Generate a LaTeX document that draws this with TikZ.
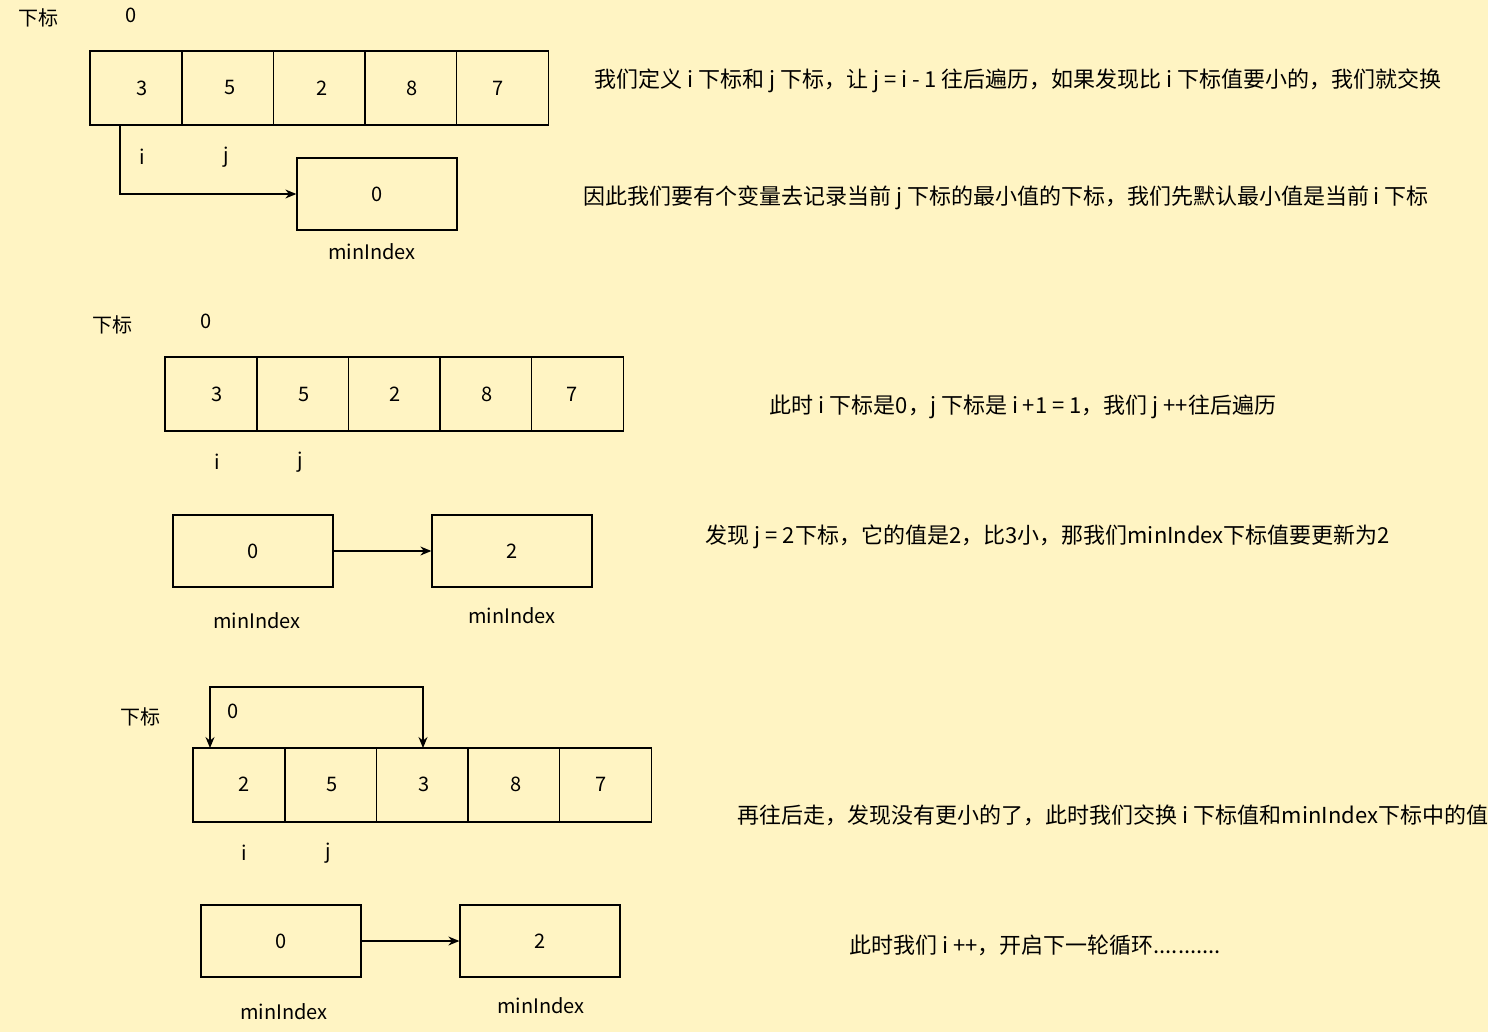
\documentclass[tikz,border=0pt]{standalone}
\usepackage{fontspec}
\setmainfont{Noto Sans CJK SC}
\usetikzlibrary{arrows.meta}
\definecolor{bg}{HTML}{FFF4C3}
\begin{document}
\begin{tikzpicture}[x=1pt,y=-1pt,
  every node/.style={font=\fontsize{20}{22}\selectfont,text=black},
  cell/.style={draw=black,line width=1.3pt,minimum width=92pt,minimum height=74pt,inner sep=0pt},
  mbox/.style={draw=black,line width=1.3pt,minimum width=160pt,minimum height=72pt,inner sep=0pt},
  conn/.style={line width=1.3pt,-{Stealth[length=11pt,width=9pt]}},
  note/.style={anchor=center,font=\fontsize{22}{24}\selectfont}]
\fill[bg] (0,0) rectangle (1488,1032);
\useasboundingbox (0,0) rectangle (1488,1032);
% row 1
\node (l1) at (38,18) {下标};
\node (z1) at (131,15) {0};
\foreach \k in {1,...,5}{
  \node[cell] (a\k) at (90+46+91.6*\k-91.6,88) {};
}
\node at (142,88) {3};\node at (230,88) {5};\node at (322,88) {2};\node at (412,88) {8};\node at (498,88) {7};
\node (i1) at (142,157) {i};
\node (j1) at (226,157) {j};
\node[mbox] (m1) at (377,194) {0};
\node (ml1) at (372,252) {minIndex};
\coordinate (s1) at (120,125);
\draw[conn] (s1) |- (m1.west);
\node[note] (t1) at (1018,81) {我们定义 i 下标和 j 下标，让 j = i - 1 往后遍历，如果发现比 i 下标值要小的，我们就交换};
\node[note] (t2) at (1006,198) {因此我们要有个变量去记录当前 j 下标的最小值的下标，我们先默认最小值是当前 i 下标};
% row 2
\node (l2) at (112,325) {下标};
\node (z2) at (206,321) {0};
\foreach \k in {1,...,5}{
  \node[cell] (b\k) at (165+46+91.6*\k-91.6,394) {};
}
\node at (217,394) {3};\node at (304,394) {5};\node at (395,394) {2};\node at (487,394) {8};\node at (572,394) {7};
\node (i2) at (217,462) {i};
\node (j2) at (300,462) {j};
\node[mbox] (m2a) at (253,551) {0};
\node[mbox] (m2b) at (512,551) {2};
\node (ml2a) at (257,621) {minIndex};
\node (ml2b) at (512,616) {minIndex};
\draw[conn] (m2a) -- (m2b);
\node[note] (t3) at (1023,407) {此时 i 下标是0，j 下标是 i +1 = 1，我们 j ++往后遍历};
\node[note] (t4) at (1048,537) {发现 j = 2下标，它的值是2，比3小，那我们minIndex下标值要更新为2};
% row 3
\node (l3) at (140,717) {下标};
\node (z3) at (233,711) {0};
\foreach \k in {1,...,5}{
  \node[cell] (c\k) at (193+46+91.6*\k-91.6,785) {};
}
\node at (244,784) {2};\node at (332,784) {5};\node at (424,784) {3};\node at (516,784) {8};\node at (601,784) {7};
\coordinate (p1) at (210,687);
\coordinate (p2) at (423,687);
\coordinate (e1) at (210,748);
\coordinate (e2) at (423,748);
\draw[line width=1.3pt,{Stealth[length=11pt,width=9pt]}-{Stealth[length=11pt,width=9pt]}] (e1) -- (p1) -- (p2) -- (e2);
\node (i3) at (244,853) {i};
\node (j3) at (328,853) {j};
\node[mbox] (m3a) at (281,941) {0};
\node[mbox] (m3b) at (540,941) {2};
\node (ml3a) at (284,1012) {minIndex};
\node (ml3b) at (541,1006) {minIndex};
\draw[conn] (m3a) -- (m3b);
\node[note] (t5) at (1113,815) {再往后走，发现没有更小的了，此时我们交换 i 下标值和minIndex下标中的值};
\node[note] (t6) at (1035,945) {此时我们 i ++，开启下一轮循环...........};
\end{tikzpicture}
\end{document}
